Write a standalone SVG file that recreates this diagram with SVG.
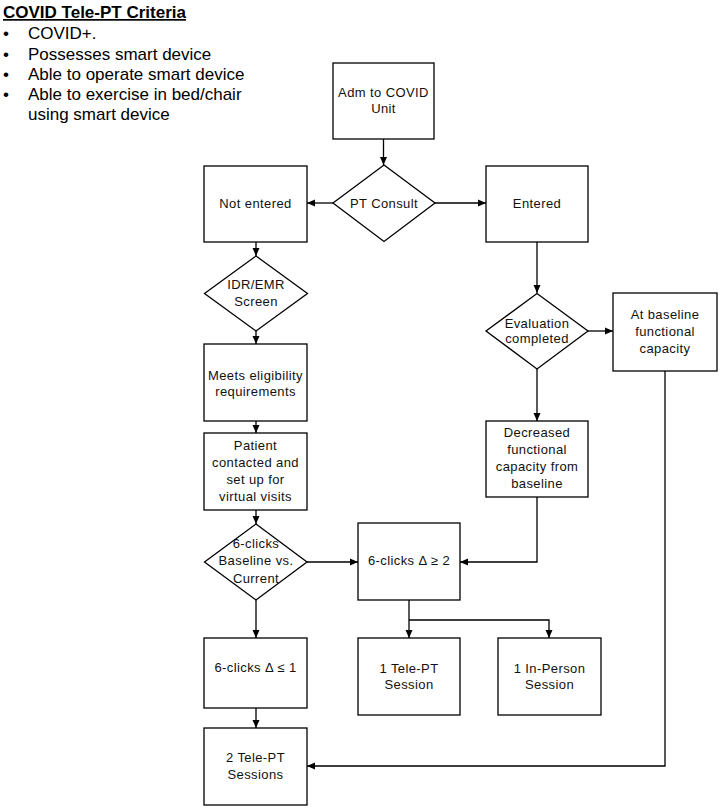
<svg xmlns="http://www.w3.org/2000/svg" width="719" height="808" viewBox="0 0 719 808">
<style>
  .box{fill:#fff;stroke:#000;stroke-width:1.3}
  .t{font-family:"Liberation Sans",Arial,sans-serif;font-size:13px;letter-spacing:0.4px;fill:#111;text-anchor:middle}
  .crit{font-family:"Liberation Sans",Arial,sans-serif;font-size:17px;fill:#000}
  .title{font-family:"Liberation Sans",Arial,sans-serif;font-size:17px;font-weight:bold;fill:#000;text-decoration:underline}
  .c{fill:none;stroke:#000;stroke-width:1.3}
</style>
<defs>
  <marker id="ah" viewBox="0 0 8 8" refX="8" refY="4" markerWidth="8" markerHeight="8" markerUnits="userSpaceOnUse" orient="auto">
    <path d="M0,0.5 L8,4 L0,7.5 Z" fill="#000"/>
  </marker>
</defs>
<rect width="719" height="808" fill="#fff"/>
<g id="criteria">
  <text class="title" x="3" y="18">COVID Tele-PT Criteria</text>
  <text class="crit" x="3" y="39">•</text>
  <text class="crit" x="28" y="39">COVID+.</text>
  <text class="crit" x="3" y="60">•</text>
  <text class="crit" x="28" y="60">Possesses smart device</text>
  <text class="crit" x="3" y="80">•</text>
  <text class="crit" x="28" y="80">Able to operate smart device</text>
  <text class="crit" x="3" y="100">•</text>
  <text class="crit" x="28" y="100">Able to exercise in bed/chair</text>
  <text class="crit" x="28" y="120">using smart device</text>
</g>
<g id="connectors">
  <line class="c" x1="383.5" y1="139" x2="383.5" y2="165" marker-end="url(#ah)"/>
  <line class="c" x1="333" y1="203" x2="307" y2="203" marker-end="url(#ah)"/>
  <line class="c" x1="435" y1="203" x2="486" y2="203" marker-end="url(#ah)"/>
  <line class="c" x1="256" y1="242" x2="256" y2="256" marker-end="url(#ah)"/>
  <line class="c" x1="256" y1="331" x2="256" y2="344" marker-end="url(#ah)"/>
  <line class="c" x1="256" y1="421" x2="256" y2="433" marker-end="url(#ah)"/>
  <line class="c" x1="256" y1="510" x2="256" y2="524" marker-end="url(#ah)"/>
  <line class="c" x1="307" y1="562" x2="358" y2="562" marker-end="url(#ah)"/>
  <line class="c" x1="256" y1="600" x2="256" y2="638" marker-end="url(#ah)"/>
  <line class="c" x1="256" y1="708" x2="256" y2="728" marker-end="url(#ah)"/>
  <line class="c" x1="537" y1="242" x2="537" y2="293" marker-end="url(#ah)"/>
  <line class="c" x1="588" y1="331" x2="613" y2="331" marker-end="url(#ah)"/>
  <line class="c" x1="537" y1="369" x2="537" y2="421" marker-end="url(#ah)"/>
  <polyline class="c" points="537,497 537,562 460,562" marker-end="url(#ah)"/>
  <line class="c" x1="409" y1="600" x2="409" y2="638" marker-end="url(#ah)"/>
  <polyline class="c" points="409,620 549,620 549,638" marker-end="url(#ah)"/>
  <polyline class="c" points="665,371 665,766 307,766" marker-end="url(#ah)"/>
</g>
<g id="adm">
  <rect class="box" x="333" y="63" width="101" height="76"/>
  <text class="t" x="383.5" y="97">Adm to COVID</text>
  <text class="t" x="383.5" y="113">Unit</text>
</g>
<g id="ptconsult">
  <polygon class="box" points="384,165 435,203 384,241.5 333,203"/>
  <text class="t" x="384" y="207.5">PT Consult</text>
</g>
<g id="notentered">
  <rect class="box" x="204" y="166" width="103" height="76"/>
  <text class="t" x="255.5" y="207.5">Not entered</text>
</g>
<g id="entered">
  <rect class="box" x="486" y="166" width="102" height="76"/>
  <text class="t" x="537" y="207.5">Entered</text>
</g>
<g id="idr">
  <polygon class="box" points="256,256 307.5,293.5 256,331 204.5,293.5"/>
  <text class="t" x="256" y="288.5">IDR/EMR</text>
  <text class="t" x="256" y="305.5">Screen</text>
</g>
<g id="meets">
  <rect class="box" x="204" y="344" width="103" height="77"/>
  <text class="t" x="255.5" y="380">Meets eligibility</text>
  <text class="t" x="255.5" y="395.5">requirements</text>
</g>
<g id="patient">
  <rect class="box" x="204" y="433" width="103" height="77"/>
  <text class="t" x="255.5" y="450">Patient</text>
  <text class="t" x="255.5" y="467">contacted and</text>
  <text class="t" x="255.5" y="484">set up for</text>
  <text class="t" x="255.5" y="501">virtual visits</text>
</g>
<g id="sixclicks">
  <polygon class="box" points="256,524 307,562 256,600 204.5,562"/>
  <text class="t" x="256" y="547.5">6-clicks</text>
  <text class="t" x="256" y="565">Baseline vs.</text>
  <text class="t" x="256" y="582.5">Current</text>
</g>
<g id="ge2">
  <rect class="box" x="358" y="523" width="102" height="77"/>
  <text class="t" x="409" y="565">6-clicks Δ ≥ 2</text>
</g>
<g id="evaluation">
  <polygon class="box" points="537,293.5 588,331 537,369 486,331"/>
  <text class="t" x="537" y="327.5">Evaluation</text>
  <text class="t" x="537" y="343">completed</text>
</g>
<g id="atbaseline">
  <rect class="box" x="613" y="293" width="104" height="78"/>
  <text class="t" x="665" y="319">At baseline</text>
  <text class="t" x="665" y="336">functional</text>
  <text class="t" x="665" y="352.5">capacity</text>
</g>
<g id="decreased">
  <rect class="box" x="486" y="421" width="102" height="76"/>
  <text class="t" x="537" y="437">Decreased</text>
  <text class="t" x="537" y="454">functional</text>
  <text class="t" x="537" y="471">capacity from</text>
  <text class="t" x="537" y="487.5">baseline</text>
</g>
<g id="le1">
  <rect class="box" x="204" y="638" width="103" height="70"/>
  <text class="t" x="255.5" y="672">6-clicks Δ ≤ 1</text>
</g>
<g id="teleone">
  <rect class="box" x="358" y="638" width="102" height="77"/>
  <text class="t" x="409" y="672.5">1 Tele-PT</text>
  <text class="t" x="409" y="688.5">Session</text>
</g>
<g id="inperson">
  <rect class="box" x="498" y="638" width="103" height="77"/>
  <text class="t" x="549.5" y="672.5">1 In-Person</text>
  <text class="t" x="549.5" y="688.5">Session</text>
</g>
<g id="teletwo">
  <rect class="box" x="204" y="728" width="103" height="77"/>
  <text class="t" x="255.5" y="762">2 Tele-PT</text>
  <text class="t" x="255.5" y="778.5">Sessions</text>
</g>
</svg>
